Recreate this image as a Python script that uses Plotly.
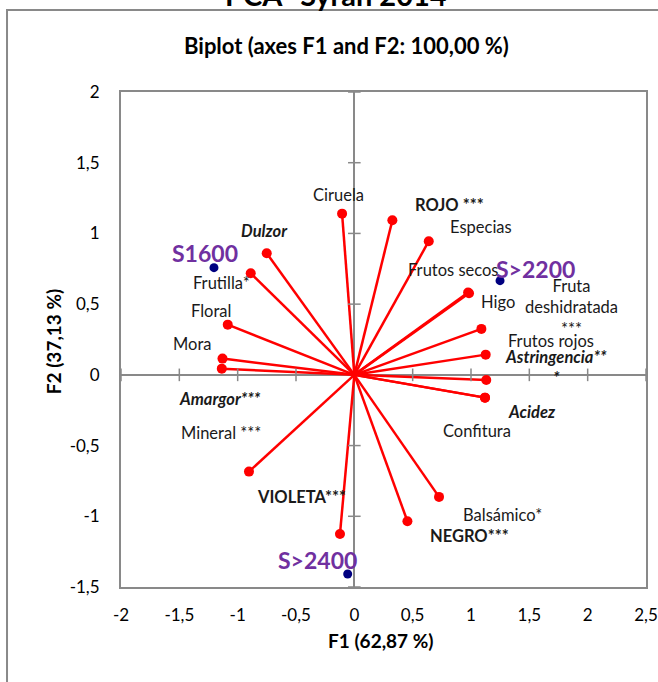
import plotly.graph_objects as go

# ---- data ----
var_names = ["Ciruela", "ROJO ***", "Especias", "Frutos secos", "Higo",
             "Fruta<br>deshidratada<br>***", "Frutos rojos", "Astringencia**<br>*",
             "Acidez", "Confitura", "Balsámico*", "NEGRO***", "VIOLETA***",
             "Mineral ***", "Amargor***", "Mora", "Floral", "Frutilla*", "Dulzor"]
var_f1 = [-0.105, 0.326, 0.638, 0.983, 0.975, 1.089, 1.126, 1.131, 1.12, 1.12,
          0.726, 0.455, -0.123, -0.903, -1.136, -1.13, -1.085, -0.888, -0.751]
var_f2 = [1.14, 1.093, 0.945, 0.577, 0.582, 0.325, 0.143, -0.036, -0.161, -0.161,
          -0.863, -1.035, -1.125, -0.684, 0.044, 0.115, 0.355, 0.718, 0.86]
var_style = ["n", "b", "n", "n", "n", "n", "n", "bi", "bi", "n",
             "n", "b", "b", "n", "bi", "n", "n", "n", "bi"]

obs_names = ["S1600", "S>2200", "S>2400"]
obs_f1 = [-1.203, 1.249, -0.057]
obs_f2 = [0.758, 0.666, -1.408]

x_ticks = [-2, -1.5, -1, -0.5, 0, 0.5, 1, 1.5, 2, 2.5]
x_tick_text = ["-2", "-1,5", "-1", "-0,5", "0", "0,5", "1", "1,5", "2", "2,5"]
y_ticks = [-1.5, -1, -0.5, 0, 0.5, 1, 1.5, 2]
y_tick_text = ["-1,5", "-1", "-0,5", "0", "0,5", "1", "1,5", "2"]

# label offsets (pixels)
var_shift = [(-4, 19), (57, 15), (52, 14), (-16, 23), (30, -9), (90, 21), (65, 14),
             (70, 12), (47, -14), (-8, -33), (63, -18), (62, -15), (-38, 37),
             (-28, 39), (-2, -30), (-30, 15), (-17, 14), (-29, -10), (-2, 22)]
obs_shift = [(-9, 15), (35, 12), (-30, 14)]

FONT = "Lato, 'Open Sans', sans-serif"
GRAY = "#898989"

fig = go.Figure()

# vectors
lx, ly = [], []
for a, b in zip(var_f1, var_f2):
    lx += [0, a, None]
    ly += [0, b, None]
fig.add_trace(go.Scatter(x=lx, y=ly, mode="lines",
                         line=dict(color="#FF0000", width=2.5), hoverinfo="skip"))
fig.add_trace(go.Scatter(x=var_f1, y=var_f2, mode="markers",
                         marker=dict(color="#FF0000", size=10), hoverinfo="skip"))

# tick marks on the zero lines
fig.add_trace(go.Scatter(x=[v for v in x_ticks if v != 0], y=[0] * (len(x_ticks) - 1),
                         mode="markers", hoverinfo="skip",
                         marker=dict(symbol="line-ns", size=9,
                                     line=dict(color=GRAY, width=1.5))))
fig.add_trace(go.Scatter(x=[0] * (len(y_ticks) - 1), y=[v for v in y_ticks if v != 0],
                         mode="markers", hoverinfo="skip",
                         marker=dict(symbol="line-ew", size=9,
                                     line=dict(color=GRAY, width=1.5))))

# observations
fig.add_trace(go.Scatter(x=obs_f1, y=obs_f2, mode="markers",
                         marker=dict(color="#000080", size=9), hoverinfo="skip"))

# variable labels
for name, a, b, st, (dx, dy) in zip(var_names, var_f1, var_f2, var_style, var_shift):
    txt = name
    if st == "b":
        txt = "<b>" + name + "</b>"
    elif st == "bi":
        txt = "<b><i>" + name + "</i></b>"
    fig.add_annotation(x=a, y=b, text=txt, showarrow=False, xshift=dx, yshift=dy,
                       font=dict(family=FONT, size=16.5, color="#1a1a1a"))

for name, a, b, (dx, dy) in zip(obs_names, obs_f1, obs_f2, obs_shift):
    fig.add_annotation(x=a, y=b, text="<b>" + name + "</b>", showarrow=False,
                       xshift=dx, yshift=dy,
                       font=dict(family=FONT, size=23, color="#7030A0"))

# titles
fig.add_annotation(xref="paper", yref="paper", x=0.43, y=1.0939, text="<b>Biplot (axes F1 and F2: 100,00 %)</b>",
                   showarrow=False, yanchor="middle",
                   font=dict(family=FONT, size=22, color="black"))
fig.add_annotation(xref="paper", yref="paper", x=0.4955, y=-0.109, text="<b>F1 (62,87 %)</b>",
                   showarrow=False, yanchor="middle",
                   font=dict(family=FONT, size=19, color="black"))
fig.add_annotation(xref="paper", yref="paper", x=-0.1295, y=0.4965, text="<b>F2 (37,13 %)</b>",
                   showarrow=False, textangle=-90, xanchor="center", yanchor="middle",
                   font=dict(family=FONT, size=19, color="black"))
fig.add_annotation(xref="paper", yref="paper", x=0.41, y=1.1576, text="<b>PCA- Syrah 2014</b>",
                   showarrow=False, yanchor="bottom",
                   font=dict(family=FONT, size=29, color="black"))

# outer chart frame
fig.add_shape(type="rect", xref="paper", yref="paper", x0=-0.2171, x1=1.2, y0=-0.3, y1=1.1657,
              line=dict(color=GRAY, width=2), layer="below")

fig.update_layout(
    width=658, height=682,
    margin=dict(l=121, r=12, t=92, b=95, autoexpand=False),
    paper_bgcolor="white", plot_bgcolor="white",
    showlegend=False,
    font=dict(family=FONT, size=14, color="black"),
    xaxis=dict(range=[-2, 2.5], tickvals=x_ticks, ticktext=x_tick_text,
               showgrid=False, zeroline=True, zerolinecolor=GRAY, zerolinewidth=1.5,
               showline=True, mirror=True, linecolor=GRAY, linewidth=2, automargin=False,
               ticks="", ticklabelstandoff=12, tickfont=dict(size=17)),
    yaxis=dict(range=[-1.5, 2], tickvals=y_ticks, ticktext=y_tick_text,
               showgrid=False, zeroline=True, zerolinecolor=GRAY, zerolinewidth=1.5,
               showline=True, mirror=True, linecolor=GRAY, linewidth=2, automargin=False,
               ticks="", ticklabelstandoff=16, tickfont=dict(size=17)),
)

fig.write_html("out.html", config={"displayModeBar": False},
               post_script="document.body.style.margin='0';document.body.style.overflow='hidden';")
